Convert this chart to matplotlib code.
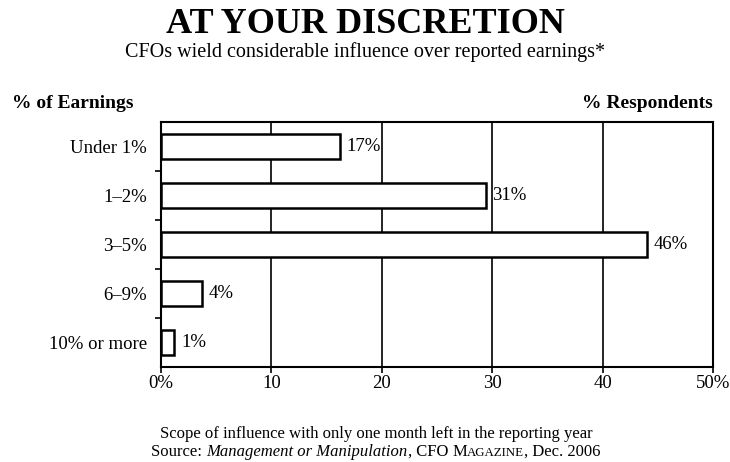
import matplotlib
matplotlib.use("Agg")
import matplotlib.pyplot as plt
from matplotlib.ticker import FixedLocator

plt.rcParams.update({"font.family": "Liberation Serif", "axes.linewidth": 1.5})

# ------------------------------------------------------------------ data
categories = ["Under 1%", "1\u20132%", "3\u20135%", "6\u20139%", "10% or more"]
bar_lengths = [16.2, 29.4, 44.0, 3.7, 1.2]      # as drawn in the original
value_labels = [17, 31, 46, 4, 1]               # as printed next to the bars
x_ticks = [0, 10, 20, 30, 40, 50]
x_ticklabels = ["0%", "10", "20", "30", "40", "50%"]

fig = plt.figure(figsize=(7.3, 4.62), dpi=100)
ax = fig.add_axes([0.2205, 0.2056, 0.7562, 0.5304])

ypos = list(range(len(categories)))
ax.barh(ypos, bar_lengths, height=0.52, color="white", edgecolor="black",
        linewidth=1.8, zorder=3)
for y, length, v in zip(ypos, bar_lengths, value_labels):
    ax.annotate(f"{v}%", xy=(length, y), xytext=(5, 0), textcoords="offset points",
                va="center", ha="left", fontsize=13.5, zorder=4)

ax.set_xlim(0, 50)
ax.set_ylim(len(categories) - 0.5, -0.5)
ax.set_xticks(x_ticks)
ax.set_xticklabels(x_ticklabels, fontsize=13.5)
ax.set_yticks(ypos)
ax.set_yticklabels(categories, fontsize=13.5)
ax.yaxis.set_minor_locator(FixedLocator([i + 0.5 for i in ypos[:-1]]))
ax.tick_params(axis="y", which="major", length=0, pad=10)
ax.tick_params(axis="y", which="minor", length=4, width=1.2, direction="out")
ax.tick_params(axis="x", which="major", length=4, width=1.2, direction="out", pad=2)
ax.xaxis.grid(True, color="black", lw=1.2)
ax.set_axisbelow(True)

# titles / axis headers
fig.text(0.5, 1 - 33 / 462, "AT YOUR DISCRETION", ha="center", va="baseline",
         fontsize=26, fontweight="bold")
fig.text(0.5, 1 - 57 / 462, "CFOs wield considerable influence over reported earnings*",
         ha="center", va="baseline", fontsize=14.5)
fig.text(12 / 730, 1 - 108 / 462, "% of Earnings", ha="left", va="baseline",
         fontsize=14, fontweight="bold")
fig.text(713 / 730, 1 - 108 / 462, "% Respondents", ha="right", va="baseline",
         fontsize=14, fontweight="bold")

# footer
fig.text(376 / 730, 1 - 438 / 462,
         "Scope of influence with only one month left in the reporting year",
         ha="center", va="baseline", fontsize=12)

# second footer line: mixed italic and small caps, laid out piece by piece
pieces = [("Source: ", 12, "normal"), ("Management or Manipulation", 12, "italic"),
          (", CFO ", 12, "normal"), ("M", 12, "normal"), ("AGAZINE", 9.3, "normal"),
          (", Dec. 2006", 12, "normal")]
renderer = fig.canvas.get_renderer()


def advance(s, fs, st):
    # ink extent of "x" + s + "x" minus that of "xx" gives the advance width of s
    a = fig.text(0, 0, "x" + s + "x", fontsize=fs, style=st)
    b = fig.text(0, 0, "xx", fontsize=fs, style=st)
    w = a.get_window_extent(renderer).width - b.get_window_extent(renderer).width
    a.remove()
    b.remove()
    return w


items = []
for s, fs, st in pieces:
    t = fig.text(0, 1 - 456 / 462, s, fontsize=fs, style=st, va="baseline", ha="left")
    items.append((t, advance(s, fs, st)))
total = sum(w for _, w in items)
x = 376 - total / 2
for t, w in items:
    t.set_x(x / 730)
    x += w

fig.savefig("out.png", dpi=100)
